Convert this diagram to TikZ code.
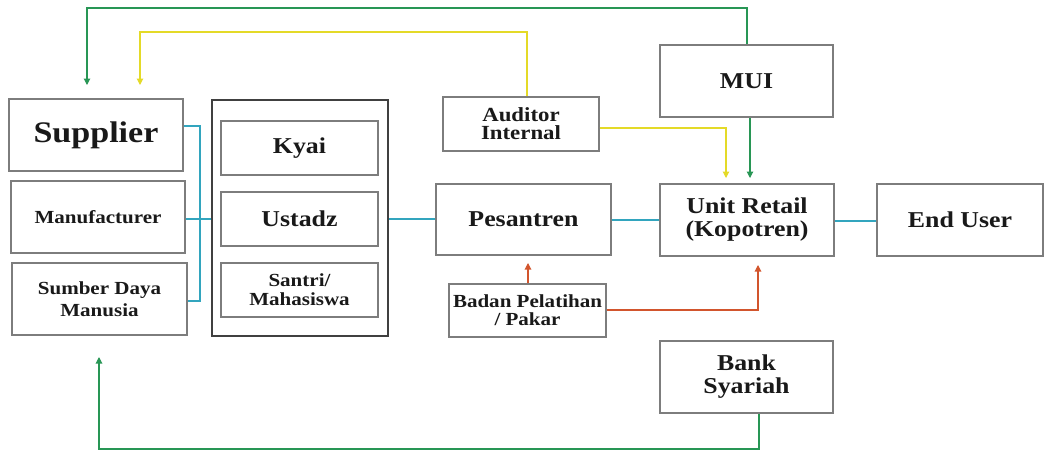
\documentclass[tikz,border=0pt]{standalone}
\usepackage{fontspec}
\setmainfont[FakeStretch=1.14]{Liberation Serif}
\usetikzlibrary{arrows.meta}
\definecolor{cgreen}{RGB}{40,150,85}
\definecolor{cyel}{RGB}{228,218,40}
\definecolor{cred}{RGB}{210,85,45}
\definecolor{cblue}{RGB}{50,165,190}
\definecolor{cbord}{RGB}{125,125,125}
\definecolor{ctext}{RGB}{25,25,25}
\begin{document}
\begin{tikzpicture}[x=0.02cm,y=-0.02cm,
  box/.style={draw=cbord,line width=0.7pt,fill=white,text=ctext,font=\bfseries,align=center,inner sep=0pt},
  big/.style={box,minimum width=3.48cm,minimum height=1.44cm},
  inbox/.style={box,minimum width=3.14cm,minimum height=1.08cm},
  fbig/.style={font=\fontsize{12.9}{13.1}\selectfont\bfseries},
  fmed/.style={font=\fontsize{10.5}{12.2}\selectfont\bfseries},
  conn/.style={line width=0.6pt},
  tip/.style={-{Triangle[length=1.3mm,width=1.3mm]}}]
\useasboundingbox (0,0) rectangle (1044,450);
% left column
\node[big,font=\fontsize{17}{20}\selectfont\bfseries] (sup) at (96,135) {Supplier};
\node[big,fmed] (man) at (98,217) {Manufacturer};
\node[big,fmed,minimum width=3.5cm] (sdm) at (99.5,299) {Sumber Daya\\Manusia};
% container
\node[draw=black!75,line width=0.9pt,minimum width=3.52cm,minimum height=4.72cm,inner sep=0pt] (cont) at (300,218) {};
\node[inbox,fbig] (kyai) at (299.5,148) {Kyai};
\node[inbox,fbig] (ust) at (299.5,219) {Ustadz};
\node[inbox,font=\fontsize{10.5}{10.8}\selectfont\bfseries] (san) at (299.5,290) {Santri/\\Mahasiswa};
% middle
\node[big,fbig,minimum width=3.5cm,minimum height=1.42cm] (pes) at (523.5,219.5) {Pesantren};
\node[inbox,font=\fontsize{11.4}{10.4}\selectfont\bfseries,minimum width=3.12cm] (aud) at (521,124) {Auditor\\Internal};
\node[inbox,font=\fontsize{10.5}{10.4}\selectfont\bfseries,minimum height=1.06cm] (bad) at (527.5,310.5) {Badan Pelatihan\\/ Pakar};
% right
\node[big,fbig] (ur) at (747,220) {Unit Retail\\(Kopotren)};
\node[big,fbig,minimum width=3.46cm] (mui) at (746.5,81) {MUI};
\node[big,fbig,minimum width=3.46cm] (bank) at (746.5,377) {Bank\\Syariah};
\node[big,fbig,minimum width=3.32cm] (eu) at (960,220) {End User};
% coordinates
\coordinate (j1) at (200,126);
\coordinate (j2) at (200,301);
\coordinate (ya) at (140,85);
\coordinate (ga) at (87,85);
\coordinate (gb) at (99,357);
% blue connectors
\draw[cblue,conn] (sup.east |- j1) -- (j1) -- (j2) -- (sdm.east |- j2);
\draw[cblue,conn] (man.east |- 0,219) -- (cont.west |- 0,219);
\draw[cblue,conn] (cont.east |- 0,219) -- (pes.west |- 0,219);
\draw[cblue,conn] (pes.east |- 0,220) -- (ur.west |- 0,220);
\draw[cblue,conn] (ur.east |- 0,221) -- (eu.west |- 0,221);
% yellow
\draw[cyel,conn,tip] (aud.north -| 527,0) -- (527,32) -| (ya);
\draw[cyel,conn,tip] (aud.east |- 0,128) -| (726,178);
% green
\draw[cgreen,conn,tip] (mui.north -| 747,0) -- (747,8) -| (ga);
\draw[cgreen,conn,tip] (mui.south -| 750,0) -- (750,178);
\draw[cgreen,conn,tip] (bank.south -| 759,0) -- (759,449) -| (gb);
% red
\draw[cred,conn,tip] (bad.north -| 528,0) -- (528,263);
\draw[cred,conn,tip] (bad.east |- 0,310) -| (758,265);
\end{tikzpicture}
\end{document}
